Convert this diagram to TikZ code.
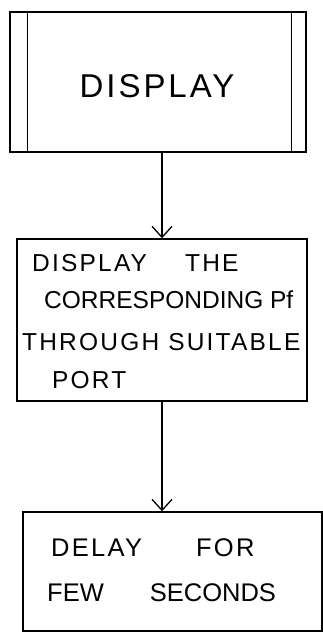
\documentclass[tikz,border=0pt]{standalone}
\usepackage{fontspec}
\setmainfont{Liberation Sans}[LetterSpace=9]
\usetikzlibrary{arrows.meta}
\begin{document}
\begin{tikzpicture}[x=1pt,y=1pt,
  box/.style={draw,line width=1.4pt,inner sep=0pt},
  txt/.style={anchor=west,inner sep=0pt,font=\fontsize{24.5}{26}\selectfont},
  conn/.style={line width=1.3pt,-{Straight Barb[length=11pt,width=20pt,line width=1.3pt]}}]
\useasboundingbox (0,0) rectangle (323,-634);
% box 1: predefined process
\node[box,minimum width=296pt,minimum height=140pt] (b1) at (158,-82) {};
\draw[line width=1.4pt] ([xshift=18pt]b1.north west) -- ([xshift=18pt]b1.south west);
\draw[line width=1.4pt] ([xshift=-15pt]b1.north east) -- ([xshift=-15pt]b1.south east);
\node[inner sep=0pt,font=\fontsize{33}{36}\selectfont] (t1) at (157,-86) {DISPLAY};
% box 2
\node[box,minimum width=290pt,minimum height=162pt] (b2) at (162,-320) {};
\node[txt] (t2a) at (32,-263) {DISPLAY\hspace{38pt}THE};
\node[txt] (t2b) at (44,-300) {\addfontfeature{LetterSpace=0}CORRESPONDING Pf};
\node[txt] (t2c) at (22,-342) {THROUGH SUITABLE};
\node[txt] (t2d) at (52,-380) {PORT};
% box 3
\node[box,minimum width=299pt,minimum height=119pt] (b3) at (172.5,-571.5) {};
\node[txt,font=\fontsize{25.5}{27}\selectfont] (t3a) at (51,-548) {DELAY\hspace{54pt}FOR};
\node[txt,font=\fontsize{25.5}{27}\selectfont] (t3b) at (47,-593) {\addfontfeature{LetterSpace=0}FEW\hspace{46pt}SECONDS};
% connectors
\draw[conn] (b2.north |- b1.south) -- (b2.north);
\draw[conn] (b2.south) -- (b2.south |- b3.north);
\end{tikzpicture}
\end{document}
